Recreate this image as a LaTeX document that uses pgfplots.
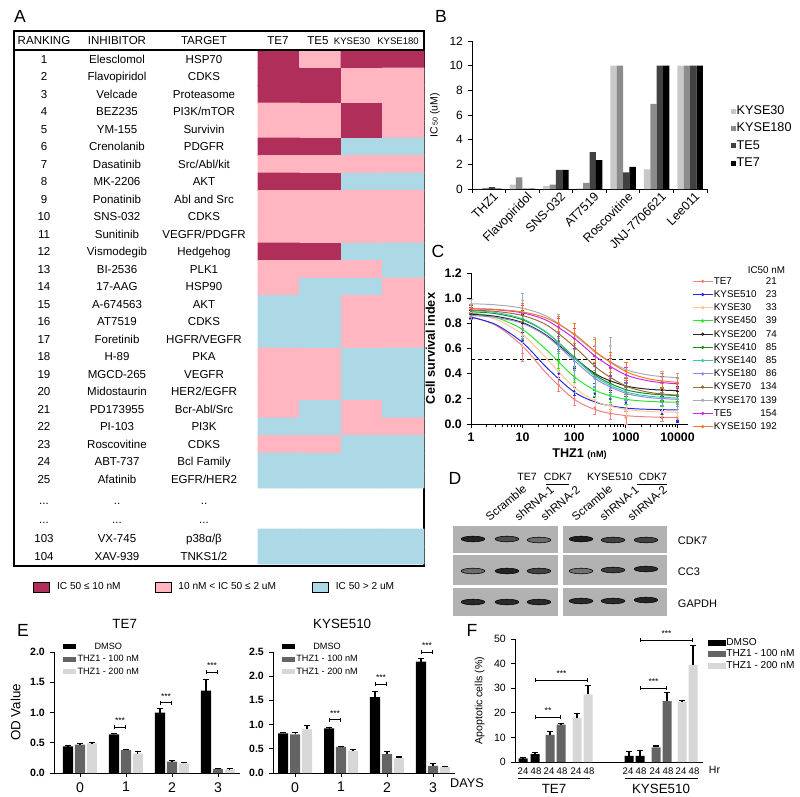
\documentclass[border=0pt]{standalone}
\usepackage{pgfplots}
\usepackage{pgfplotstable}
\usepackage{fontspec}
\setmainfont{Liberation Sans}
\usetikzlibrary{arrows.meta}
\pgfplotsset{compat=1.18}

\newcommand\fs[1]{\fontsize{#1}{#1}\selectfont}
\newcommand\lgd[2]{\makebox[12.5mm][l]{#1}\makebox[3.25mm][r]{#2}}

\definecolor{icdark}{RGB}{176,46,90}
\definecolor{icpink}{RGB}{255,182,193}
\definecolor{icblue}{RGB}{173,216,230}
\definecolor{cTEs}{RGB}{240,128,128}
\definecolor{cKa}{RGB}{40,40,220}
\definecolor{cKb}{RGB}{250,200,150}
\definecolor{cKc}{RGB}{40,230,40}
\definecolor{cKd}{RGB}{40,40,40}
\definecolor{cKe}{RGB}{30,140,30}
\definecolor{cKf}{RGB}{60,200,170}
\definecolor{cKg}{RGB}{140,140,230}
\definecolor{cKh}{RGB}{150,110,60}
\definecolor{cKi}{RGB}{170,170,185}
\definecolor{cTEf}{RGB}{200,40,230}
\definecolor{cKj}{RGB}{245,120,40}
\definecolor{blot}{RGB}{178,178,178}
\definecolor{gmid}{RGB}{100,100,100}
\definecolor{glt}{RGB}{215,215,215}
\definecolor{bk30}{RGB}{200,200,200}
\definecolor{bk180}{RGB}{140,140,140}
\definecolor{bte5}{RGB}{65,65,65}

\tikzset{brk/.style={line width=0.6pt, {Bar[width=3pt]}-{Bar[width=3pt]}}}

\pgfplotsset{
  pan/.style={scale only axis, anchor=south west, axis x line*=bottom, axis y line*=left,
    axis line style={-, line width=0.7pt}, tick style={black, line width=0.6pt},
    tick align=outside, major tick length=3pt, minor tick length=1.8pt, clip=false,
    /pgf/number format/assume math mode=true, /pgf/number format/1000 sep={}},
  legB/.style={legend image code/.code={\fill[##1] (0mm,-0.65mm) rectangle (1.3mm,0.65mm);}},
  legE/.style={legend image code/.code={\fill[##1] (0mm,-0.65mm) rectangle (3.3mm,0.65mm);}},
  legF/.style={legend image code/.code={\fill[##1] (0mm,-0.75mm) rectangle (4.3mm,0.75mm);}},
  eax/.style={pan, height=30.25mm, ybar, bar width=0.22, ymin=0, xtick={0,1,2,3},
    xticklabel style={font=\fs{10}},
    yticklabel style={font=\fs{7.5}\bfseries, /pgf/number format/.cd, fixed, fixed zerofill, precision=1},
    title style={at={(0.38,1)}, anchor=base, yshift=11pt, font=\fs{9.5}},
    legend style={at={(0.048,1.09)}, anchor=north west, draw=none, fill=none, font=\fs{6.5},
      inner sep=0pt, row sep=1.3pt, nodes={inner sep=0.8pt, text height=4.7pt, text depth=1.3pt}},
    every axis plot/.append style={legE, draw=none, error bars/y dir=plus, error bars/y explicit,
      error bars/error bar style={black, line width=0.8pt},
      error bars/error mark options={rotate=90, black, mark size=2.2pt, line width=0.8pt}}},
}

% panel A: ranking table
\pgfplotstableread[col sep=comma]{
y,rk,inh,tgt
59.25,1,Elesclomol,HSP70
76.75,2,Flavopiridol,CDKS
94.25,3,Velcade,Proteasome
111.75,4,BEZ235,PI3K/mTOR
129.25,5,YM-155,Survivin
146.75,6,Crenolanib,PDGFR
164.25,7,Dasatinib,Src/Abl/kit
181.75,8,MK-2206,AKT
199.25,9,Ponatinib,Abl and Src
216.75,10,SNS-032,CDKS
234.25,11,Sunitinib,VEGFR/PDGFR
251.75,12,Vismodegib,Hedgehog
269.25,13,BI-2536,PLK1
286.75,14,17-AAG,HSP90
304.25,15,A-674563,AKT
321.75,16,AT7519,CDKS
339.25,17,Foretinib,HGFR/VEGFR
356.75,18,H-89,PKA
374.25,19,MGCD-265,VEGFR
391.75,20,Midostaurin,HER2/EGFR
409.25,21,PD173955,Bcr-Abl/Src
426.75,22,PI-103,PI3K
444.25,23,Roscovitine,CDKS
461.75,24,ABT-737,Bcl Family
479.25,25,Afatinib,EGFR/HER2
500,...,..,..
519,...,...,...
538,103,VX-745,p38α/β
556,104,XAV-939,TNKS1/2
}\tabA

% heat map: 2 = IC50 <= 10 nM, 1 = 10 nM - 2 uM, 0 = > 2 uM ; k = TE7, TE5, KYSE30, KYSE180
\pgfplotstableread[row sep=\\]{
r k c\\
1 0 2\\ 1 1 1\\ 1 2 2\\ 1 3 2\\
2 0 2\\ 2 1 2\\ 2 2 1\\ 2 3 1\\
3 0 2\\ 3 1 2\\ 3 2 1\\ 3 3 1\\
4 0 1\\ 4 1 1\\ 4 2 2\\ 4 3 1\\
5 0 1\\ 5 1 1\\ 5 2 2\\ 5 3 1\\
6 0 2\\ 6 1 2\\ 6 2 0\\ 6 3 0\\
7 0 1\\ 7 1 1\\ 7 2 1\\ 7 3 1\\
8 0 2\\ 8 1 2\\ 8 2 0\\ 8 3 0\\
9 0 1\\ 9 1 1\\ 9 2 1\\ 9 3 1\\
10 0 1\\ 10 1 1\\ 10 2 1\\ 10 3 1\\
11 0 1\\ 11 1 1\\ 11 2 1\\ 11 3 1\\
12 0 2\\ 12 1 2\\ 12 2 0\\ 12 3 0\\
13 0 1\\ 13 1 1\\ 13 2 1\\ 13 3 0\\
14 0 1\\ 14 1 0\\ 14 2 0\\ 14 3 1\\
15 0 0\\ 15 1 0\\ 15 2 1\\ 15 3 1\\
16 0 0\\ 16 1 0\\ 16 2 1\\ 16 3 1\\
17 0 0\\ 17 1 0\\ 17 2 1\\ 17 3 1\\
18 0 1\\ 18 1 1\\ 18 2 0\\ 18 3 0\\
19 0 1\\ 19 1 1\\ 19 2 0\\ 19 3 0\\
20 0 1\\ 20 1 1\\ 20 2 0\\ 20 3 0\\
21 0 1\\ 21 1 0\\ 21 2 1\\ 21 3 0\\
22 0 0\\ 22 1 0\\ 22 2 1\\ 22 3 1\\
23 0 1\\ 23 1 1\\ 23 2 0\\ 23 3 0\\
24 0 0\\ 24 1 0\\ 24 2 0\\ 24 3 0\\
25 0 0\\ 25 1 0\\ 25 2 0\\ 25 3 0\\
}\tabH
\pgfplotstableread[row sep=\\]{
r k c\\
1 0 0\\ 1 1 0\\ 1 2 0\\ 1 3 0\\
2 0 0\\ 2 1 0\\ 2 2 0\\ 2 3 0\\
}\tabHb

% panel B: IC50 (uM)
\pgfplotstableread{
x k30 k180 te5 te7
0 0.033 0.086 0.154 0.021
1 0.35 0.95 0.03 0.03
2 0.25 0.35 1.55 1.55
3 0.05 0.50 3.00 2.35
4 10 10 1.35 1.80
5 1.6 6.9 10 10
6 10 10 10 10
}\tabB

% panel C: fitted curves and measured points
% a TE7, b KYSE510, c KYSE30, d KYSE450, e KYSE200, f KYSE410, g KYSE140, h KYSE180, i KYSE70, j KYSE170, k TE5, l KYSE150
\pgfplotstableread{
x a b c d e f g h i j k l
1 0.852 0.848 0.876 0.882 0.872 0.892 0.902 0.862 0.905 0.956 0.916 0.917
3 0.785 0.791 0.833 0.848 0.856 0.877 0.886 0.847 0.895 0.947 0.908 0.911
10 0.619 0.647 0.712 0.751 0.806 0.828 0.835 0.799 0.862 0.920 0.883 0.890
30 0.396 0.444 0.514 0.583 0.701 0.723 0.725 0.694 0.784 0.854 0.821 0.839
100 0.196 0.254 0.291 0.375 0.524 0.532 0.526 0.504 0.615 0.709 0.680 0.715
300 0.105 0.165 0.170 0.254 0.383 0.370 0.357 0.342 0.433 0.550 0.517 0.554
1000 0.067 0.127 0.116 0.197 0.303 0.273 0.256 0.244 0.302 0.433 0.391 0.417
3000 0.056 0.116 0.099 0.179 0.275 0.239 0.220 0.209 0.250 0.387 0.340 0.356
10000 0.052 0.112 0.093 0.173 0.265 0.226 0.206 0.196 0.229 0.368 0.319 0.331
}\tabCfit
\pgfplotstableread{
x a ae b be c ce d de e ee f fe g ge h he i ie j je k ke l le
1 0.88 0.03 0.87 0.03 0.89 0.03 0.90 0.03 0.87 0.03 0.90 0.03 0.91 0.03 0.86 0.03 0.91 0.03 0.95 0.04 0.91 0.03 0.92 0.03
10 0.56 0.06 0.66 0.04 0.70 0.08 0.75 0.08 0.80 0.07 0.83 0.07 0.84 0.08 0.76 0.08 0.86 0.06 0.98 0.06 0.88 0.06 0.89 0.07
50 0.31 0.05 0.40 0.03 0.42 0.06 0.50 0.06 0.64 0.06 0.66 0.07 0.62 0.06 0.64 0.06 0.72 0.08 0.80 0.07 0.77 0.07 0.80 0.06
100 0.20 0.05 0.26 0.03 0.30 0.05 0.38 0.05 0.52 0.08 0.53 0.07 0.52 0.07 0.43 0.07 0.62 0.09 0.68 0.08 0.68 0.08 0.72 0.08
250 0.13 0.05 0.24 0.03 0.19 0.06 0.27 0.05 0.40 0.08 0.40 0.08 0.38 0.08 0.36 0.07 0.46 0.08 0.62 0.07 0.54 0.08 0.58 0.09
500 0.08 0.04 0.20 0.04 0.15 0.05 0.22 0.05 0.34 0.07 0.32 0.07 0.31 0.07 0.28 0.06 0.36 0.08 0.62 0.07 0.45 0.07 0.49 0.08
1000 0.05 0.05 0.17 0.05 0.11 0.05 0.20 0.04 0.30 0.06 0.27 0.05 0.26 0.06 0.24 0.05 0.30 0.06 0.43 0.06 0.39 0.06 0.42 0.07
5000 0.05 0.03 0.08 0.03 0.10 0.04 0.18 0.04 0.27 0.05 0.23 0.05 0.21 0.04 0.20 0.05 0.24 0.05 0.37 0.05 0.33 0.05 0.34 0.06
10000 0.04 0.02 0.02 0.01 0.09 0.03 0.17 0.03 0.26 0.04 0.22 0.04 0.20 0.04 0.16 0.04 0.23 0.05 0.36 0.04 0.32 0.04 0.33 0.04
}\tabCdat

% panel D: band intensities (lane x, row y, relative intensity)
\pgfplotstableread{
x y v
473 539 0.95
507 539 0.6
539 540 0.35
581 539 1.0
613 540 0.7
646 540 0.7
473 571 0.35
507 571 0.95
539 571 0.7
581 571 0.3
613 570 0.75
646 569 0.9
473 602 0.9
507 602 0.9
539 602 0.9
581 601 0.9
613 601 0.9
646 600 0.95
}\tabD

% panel E: OD values (DMSO, THZ1 100 nM, THZ1 200 nM)
\pgfplotstableread{
x d de m me l le
0 0.44 0.01 0.47 0.015 0.49 0.01
1 0.64 0.02 0.38 0.01 0.32 0.04
2 1.00 0.06 0.19 0.01 0.16 0.02
3 1.36 0.19 0.07 0.01 0.06 0.01
}\tabEa
\pgfplotstableread{
x d de m me l le
0 0.82 0.02 0.80 0.03 0.90 0.08
1 0.92 0.02 0.54 0.01 0.46 0.02
2 1.57 0.12 0.39 0.05 0.30 0.03
3 2.30 0.06 0.15 0.04 0.12 0.02
}\tabEb

% panel F: apoptotic cells (%)
\pgfplotstableread{
x y e
523 1.5 0.3
535 3.2 0.7
629 2.5 1.8
640 2.5 2.2
}\tabFd
\pgfplotstableread{
x y e
550 11.0 1.5
561 15.2 0.6
656 6.0 0.5
667 24.8 3.5
}\tabFm
\pgfplotstableread{
x y e
577 18.0 1.8
588 27.5 3.5
682 24.5 0.4
693 39.5 8.0
}\tabFl

\newcommand\cl[2]{%
  \addplot[forget plot, smooth, color=#1, line width=0.7pt] table[x=x, y=#2] \tabCfit;
  \addplot[forget plot, only marks, mark=*, mark size=0.7pt, color=#1,
    error bars/.cd, y dir=both, y explicit, error bar style={line width=0.4pt},
    error mark options={rotate=90, mark size=1.2pt, line width=0.4pt}]
    table[x=x, y=#2, y error=#2e] \tabCdat;
}

\begin{document}
\begin{tikzpicture}[x=0.25mm, y=-0.25mm]
\path[use as bounding box] (0,0) rectangle (800,797);

% ---------------- A ----------------
\begin{axis}[scale only axis, at={(3.5mm,-141.5mm)}, anchor=south west, width=102.5mm, height=133.75mm,
  xmin=14, xmax=424, ymin=31, ymax=566, y dir=reverse, ticks=none, clip=false,
  axis line style={line width=1.5pt},
  colormap={ic}{rgb255=(173,216,230) rgb255=(255,182,193) rgb255=(176,46,90)},
  point meta min=0, point meta max=2,
  legend columns=3,
  legend style={at={(0.046,-0.039)}, anchor=west, draw=none, fill=none, inner sep=0pt,
    font=\fs{7.2}, nodes={inner sep=1pt}},
  legend image code/.code={\fill[#1] (0mm,-1.25mm) rectangle (4mm,1.25mm);},
  every node near coord/.style={font=\fs{8.2}, text=black, inner sep=0pt, text height=6pt, text depth=0pt},
  nodes near coords align={center}]
\addplot[forget plot, matrix plot*, mesh/cols=4, point meta=explicit]
  table[x expr={278.75+41.5*\thisrow{k}}, y expr={59.25+17.5*(\thisrow{r}-1)}, meta=c] \tabH;
\addplot[forget plot, matrix plot*, mesh/cols=4, point meta=explicit]
  table[x expr={278.75+41.5*\thisrow{k}}, y expr={537.75+17.5*(\thisrow{r}-1)}, meta=c] \tabHb;
\addplot[forget plot, only marks, mark=*, mark size=0pt, mark options={draw=none, fill=none},
  nodes near coords={\pgfplotspointmeta}, point meta=explicit symbolic] table[x expr=44, y=y, meta=rk] \tabA;
\addplot[forget plot, only marks, mark=*, mark size=0pt, mark options={draw=none, fill=none},
  nodes near coords={\pgfplotspointmeta}, point meta=explicit symbolic] table[x expr=117, y=y, meta=inh] \tabA;
\addplot[forget plot, only marks, mark=*, mark size=0pt, mark options={draw=none, fill=none},
  nodes near coords={\pgfplotspointmeta}, point meta=explicit symbolic] table[x expr=204, y=y, meta=tgt] \tabA;
\draw[line width=1.2pt] (axis cs:14,50) -- (axis cs:424,50);
\node[font=\fs{8.2}] at (axis cs:44,41) {RANKING};
\node[font=\fs{8.2}] at (axis cs:117,41) {INHIBITOR};
\node[font=\fs{8.2}] at (axis cs:204,41) {TARGET};
\node[font=\fs{8.2}] at (axis cs:278,41) {TE7};
\node[font=\fs{8.2}] at (axis cs:318,41) {TE5};
\node[font=\fs{6.8}] at (axis cs:352,41) {KYSE30};
\node[font=\fs{6.8}] at (axis cs:398,41) {KYSE180};
\addlegendimage{fill=icdark}\addlegendentry{\hspace{1.5mm}\makebox[24mm][l]{IC 50 ≤ 10 nM}}
\addlegendimage{fill=icpink}\addlegendentry{\hspace{1.5mm}\makebox[33mm][l]{10 nM < IC 50 ≤ 2 uM}}
\addlegendimage{fill=icblue}\addlegendentry{\hspace{1.5mm}IC 50 > 2 uM}
\end{axis}

% ---------------- B ----------------
\begin{axis}[pan, at={(118mm,-47.25mm)}, width=58.75mm, height=37mm,
  ybar, bar width=0.19, xmin=-0.5, xmax=6.5, ymin=0, ymax=12, ytick={0,2,...,12},
  xtick={0,...,6}, xticklabels={THZ1,Flavopiridol,SNS-032,AT7519,Roscovitine,JNJ-7706621,Lee011},
  major x tick style=transparent, minor xtick={-0.5,0.5,...,6.5}, minor tick length=3pt,
  tick label style={font=\fs{8.5}},
  xticklabel style={rotate=45, anchor=north east, inner sep=1pt, xshift=4pt, font=\fs{8.8}},
  ylabel={IC{\fs{5}\,50} (uM)}, ylabel style={font=\fs{7.5}},
  legend style={at={(1.1,0.35)}, anchor=west, draw=none, fill=none, font=\fs{9}, inner sep=0pt,
    row sep=3pt, nodes={inner sep=0.5pt, text height=6.5pt, text depth=1.8pt}},
  legend cell align=left,
  every axis plot/.append style={legB, draw=none}]
\addplot[fill=bk30, bar shift=-0.285] table[x=x, y=k30] \tabB; \addlegendentry{KYSE30}
\addplot[fill=bk180, bar shift=-0.095] table[x=x, y=k180] \tabB; \addlegendentry{KYSE180}
\addplot[fill=bte5, bar shift=0.095] table[x=x, y=te5] \tabB; \addlegendentry{TE5}
\addplot[fill=black, bar shift=0.285] table[x=x, y=te7] \tabB; \addlegendentry{TE7}
\end{axis}

% ---------------- C ----------------
\begin{axis}[pan, at={(117.75mm,-106mm)}, width=54.25mm, height=37.75mm,
  xmode=log, xmin=1, xmax=16000, ymin=0, ymax=1.2, ytick={0,0.2,...,1.2},
  log ticks with fixed point,
  tick label style={font=\fs{8.8}\bfseries},
  yticklabel style={/pgf/number format/.cd, fixed, fixed zerofill, precision=1},
  ylabel={Cell survival index}, ylabel style={font=\fs{9}\bfseries},
  xlabel={THZ1 {\fs{6.5}(nM)}}, xlabel style={font=\fs{9}\bfseries, yshift=2pt},
  legend style={at={(1.018,0.984)}, anchor=north west, draw=none, fill=none, font=\fs{7},
    inner sep=0pt, row sep=1.4pt, nodes={inner sep=0.5pt, text height=5.5pt, text depth=1.5pt}},
  legend cell align=left,
  legend image code/.code={\draw[#1, mark repeat=2, mark phase=2] plot coordinates {(0mm,0mm) (2.5mm,0mm) (5mm,0mm)};}]
\addplot[forget plot, densely dashed, black, line width=0.6pt] coordinates {(1,0.51) (16000,0.51)};
\cl{cTEs}{a}
\cl{cKa}{b}
\cl{cKb}{c}
\cl{cKc}{d}
\cl{cKd}{e}
\cl{cKe}{f}
\cl{cKf}{g}
\cl{cKg}{h}
\cl{cKh}{i}
\cl{cKi}{j}
\cl{cTEf}{k}
\cl{cKj}{l}
\addlegendimage{cTEs, mark=*, mark size=0.8pt, line width=0.7pt}\addlegendentry{\lgd{TE7}{21}}
\addlegendimage{cKa, mark=*, mark size=0.8pt, line width=0.7pt}\addlegendentry{\lgd{KYSE510}{23}}
\addlegendimage{cKb, mark=*, mark size=0.8pt, line width=0.7pt}\addlegendentry{\lgd{KYSE30}{33}}
\addlegendimage{cKc, mark=*, mark size=0.8pt, line width=0.7pt}\addlegendentry{\lgd{KYSE450}{39}}
\addlegendimage{cKd, mark=*, mark size=0.8pt, line width=0.7pt}\addlegendentry{\lgd{KYSE200}{74}}
\addlegendimage{cKe, mark=*, mark size=0.8pt, line width=0.7pt}\addlegendentry{\lgd{KYSE410}{85}}
\addlegendimage{cKf, mark=*, mark size=0.8pt, line width=0.7pt}\addlegendentry{\lgd{KYSE140}{85}}
\addlegendimage{cKg, mark=*, mark size=0.8pt, line width=0.7pt}\addlegendentry{\lgd{KYSE180}{86}}
\addlegendimage{cKh, mark=*, mark size=0.8pt, line width=0.7pt}\addlegendentry{\lgd{KYSE70}{134}}
\addlegendimage{cKi, mark=*, mark size=0.8pt, line width=0.7pt}\addlegendentry{\lgd{KYSE170}{139}}
\addlegendimage{cTEf, mark=*, mark size=0.8pt, line width=0.7pt}\addlegendentry{\lgd{TE5}{154}}
\addlegendimage{cKj, mark=*, mark size=0.8pt, line width=0.7pt}\addlegendentry{\lgd{KYSE150}{192}}
\end{axis}
\node[font=\fs{7}, anchor=east] at (790,270) {IC50 nM};

% ---------------- D ----------------
\begin{axis}[scale only axis, at={(113.25mm,-154mm)}, anchor=south west, width=53.5mm, height=22.5mm,
  xmin=453, xmax=667, ymin=526, ymax=616, y dir=reverse, hide axis, clip=false,
  colormap={bl}{rgb255=(150,150,150) rgb255=(30,30,30)}, point meta min=0, point meta max=1]
\fill[blot] (axis cs:453,526) rectangle (axis cs:558,553);
\fill[blot] (axis cs:453,555) rectangle (axis cs:558,585);
\fill[blot] (axis cs:453,588) rectangle (axis cs:558,616);
\fill[blot] (axis cs:563,526) rectangle (axis cs:667,553);
\fill[blot] (axis cs:563,555) rectangle (axis cs:667,585);
\fill[blot] (axis cs:563,588) rectangle (axis cs:667,616);
\addplot[scatter, only marks, mark=*, mark size=2pt, scatter src=explicit,
  scatter/use mapped color={draw=none, fill=mapped color}, mark options={xscale=4.2}]
  table[x=x, y=y, meta=v] \tabD;
\end{axis}
\node[font=\fs{7.5}] at (527,477) {TE7};
\node[font=\fs{7.5}] at (558,477) {CDK7};
\node[font=\fs{7.5}] at (610,477) {KYSE510};
\node[font=\fs{7.5}] at (653,477) {CDK7};
\draw[line width=0.5pt] (546,484) -- (569,484);
\draw[line width=0.5pt] (637,484) -- (667,484);
\foreach \xx/\tt in {490/Scramble, 519/shRNA-1, 545/shRNA-2, 576/Scramble, 604/shRNA-1, 632/shRNA-2}
  \node[font=\fs{8.2}, rotate=40, anchor=south west, inner sep=0pt] at (\xx,522) {\tt};
\node[font=\fs{7.8}, anchor=west] at (673,541) {CDK7};
\node[font=\fs{7.8}, anchor=west] at (673,572) {CC3};
\node[font=\fs{7.8}, anchor=west] at (673,604) {GAPDH};

% ---------------- E ----------------
\begin{axis}[eax, at={(13.5mm,-193.25mm)}, width=46.5mm, xmin=-0.565, xmax=3.48, ymax=2.0,
  ytick={0,0.5,...,2.0}, title={TE7}, ylabel={OD Value}, ylabel style={font=\fs{9.5}}]
\addplot[fill=black, bar shift=-0.26] table[x=x, y=d, y error=de] \tabEa; \addlegendentry{DMSO}
\addplot[fill=gmid, bar shift=0] table[x=x, y=m, y error=me] \tabEa; \addlegendentry{THZ1 - 100 nM}
\addplot[fill=glt, bar shift=0.26] table[x=x, y=l, y error=le] \tabEa; \addlegendentry{THZ1 - 200 nM}
\draw[brk] (axis cs:0.74,0.76) -- node[above=-1pt, font=\fs{6}]{***} (axis cs:1,0.76);
\draw[brk] (axis cs:1.74,1.16) -- node[above=-1pt, font=\fs{6}]{***} (axis cs:2,1.16);
\draw[brk] (axis cs:2.74,1.67) -- node[above=-1pt, font=\fs{6}]{***} (axis cs:3,1.67);
\end{axis}
\begin{axis}[eax, at={(68.25mm,-193.25mm)}, width=45.5mm, xmin=-0.48, xmax=3.48, ymax=2.5,
  ytick={0,0.5,...,2.5}, title={KYSE510}]
\addplot[fill=black, bar shift=-0.26] table[x=x, y=d, y error=de] \tabEb; \addlegendentry{DMSO}
\addplot[fill=gmid, bar shift=0] table[x=x, y=m, y error=me] \tabEb; \addlegendentry{THZ1 - 100 nM}
\addplot[fill=glt, bar shift=0.26] table[x=x, y=l, y error=le] \tabEb; \addlegendentry{THZ1 - 200 nM}
\draw[brk] (axis cs:0.74,1.1) -- node[above=-1pt, font=\fs{6}]{***} (axis cs:1,1.1);
\draw[brk] (axis cs:1.74,1.84) -- node[above=-1pt, font=\fs{6}]{***} (axis cs:2,1.84);
\draw[brk] (axis cs:2.74,2.5) -- node[above=-1pt, font=\fs{6}]{***} (axis cs:3,2.5);
\end{axis}
\node[font=\fs{9}] at (467,783) {DAYS};

% ---------------- F ----------------
\begin{axis}[pan, at={(128.75mm,-190.5mm)}, width=47mm, height=30.75mm,
  ybar, bar width=9, xmin=515, xmax=703, ymin=0, ymax=50, ytick={0,10,...,50},
  xtick={523,536,549,562,576,589,628,641,655,668,681,694},
  xticklabels={24,48,24,48,24,48,24,48,24,48,24,48},
  major x tick style=transparent, tick label style={font=\fs{7.5}},
  xticklabel style={inner sep=1pt, font=\fs{6.8}},
  ylabel={Apoptotic cells (\%)}, ylabel style={font=\fs{7.5}},
  legend style={at={(1.027,1.016)}, anchor=north west, draw=none, fill=none, font=\fs{7.2},
    inner sep=0pt, row sep=0.6pt, nodes={inner sep=0.6pt, text height=5pt, text depth=1.4pt}},
  legend cell align=left,
  every axis plot/.append style={legF, draw=none, bar shift=0, error bars/y dir=plus, error bars/y explicit,
    error bars/error bar style={black, line width=0.8pt},
    error bars/error mark options={rotate=90, black, mark size=2pt, line width=0.8pt}}]
\addplot[fill=black] table[x=x, y=y, y error=e] \tabFd; \addlegendentry{DMSO}
\addplot[fill=gmid] table[x=x, y=y, y error=e] \tabFm; \addlegendentry{THZ1 - 100 nM}
\addplot[fill=glt] table[x=x, y=y, y error=e] \tabFl; \addlegendentry{THZ1 - 200 nM}
\draw[brk] (axis cs:535,18.3) -- node[above=-1pt, font=\fs{6}]{**} (axis cs:561,18.3);
\draw[brk] (axis cs:535,33.3) -- node[above=-1pt, font=\fs{6}]{***} (axis cs:588,33.3);
\draw[brk] (axis cs:640,30) -- node[above=-1pt, font=\fs{6}]{***} (axis cs:667,30);
\draw[brk] (axis cs:640,49.6) -- node[above=-1pt, font=\fs{6}]{***} (axis cs:693,49.6);
\end{axis}
\node[font=\fs{7.5}, anchor=west] at (704,770) {Hr};
\draw[line width=0.6pt] (518,778) -- (590,778);
\draw[line width=0.6pt] (625,778) -- (698,778);
\node[font=\fs{9.5}] at (554,789) {TE7};
\node[font=\fs{9.5}] at (661,789) {KYSE510};

% panel letters
\node[font=\fs{12.5}] at (20,16) {A};
\node[font=\fs{12.5}] at (441,16) {B};
\node[font=\fs{12.5}] at (438,251) {C};
\node[font=\fs{12.5}] at (455,478) {D};
\node[font=\fs{12.5}] at (23,630) {E};
\node[font=\fs{12.5}] at (472,630) {F};
\end{tikzpicture}
\end{document}
